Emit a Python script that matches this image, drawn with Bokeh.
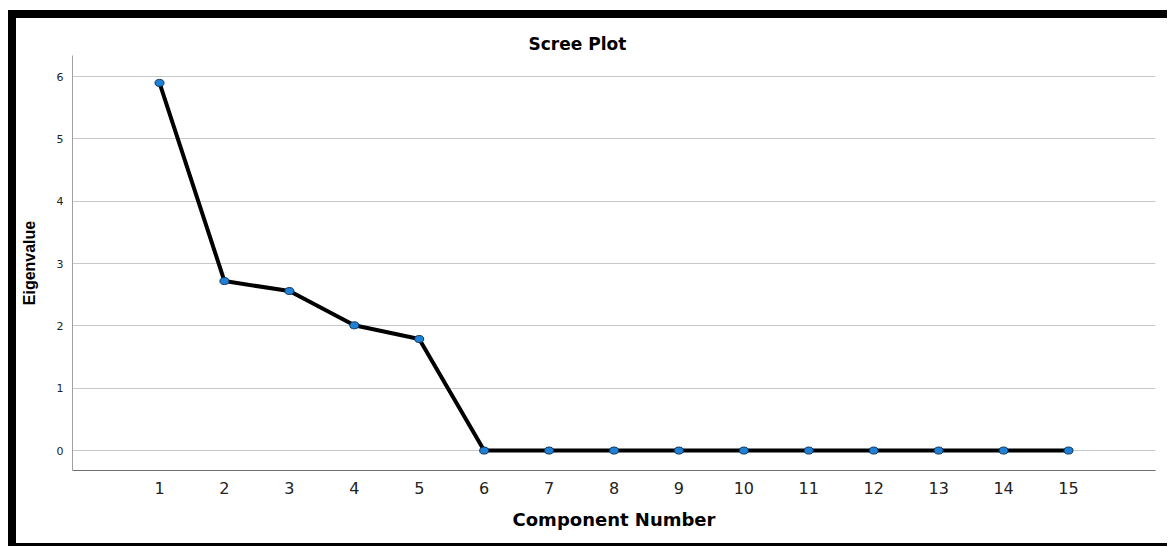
from bokeh.plotting import figure
from bokeh.models import ColumnDataSource, FixedTicker, Range1d
from bokeh.layouts import column
from bokeh.embed import file_html
from bokeh.resources import INLINE

# ---- data ----
components = [1, 2, 3, 4, 5, 6, 7, 8, 9, 10, 11, 12, 13, 14, 15]
eigenvalues = [5.90, 2.72, 2.56, 2.01, 1.79, 0.0, 0.0, 0.0, 0.0, 0.0, 0.0, 0.0, 0.0, 0.0, 0.0]
x_ticks = [1, 2, 3, 4, 5, 6, 7, 8, 9, 10, 11, 12, 13, 14, 15]
y_ticks = [0, 1, 2, 3, 4, 5, 6]
title_text = "Scree Plot"
x_label = "Component Number"
y_label = "Eigenvalue"

source = ColumnDataSource(data=dict(x=components, y=eigenvalues))

p = figure(width=1151, height=525, output_backend="svg", toolbar_location=None,
           tools="",
           x_range=Range1d(-0.34, 16.34), y_range=Range1d(-0.32, 6.34),
           min_border_left=56, min_border_right=12, min_border_top=37,
           min_border_bottom=73)

p.background_fill_color = "white"
p.border_fill_color = "white"
p.outline_line_color = None

# title
p.title.text = title_text
p.title.text_font = "DejaVu Sans"
p.title.text_font_style = "bold"
p.title.text_font_size = "17px"
p.title.text_color = "black"
p.title.align = "left"
p.title.offset = 456
p.title.standoff = 4

# grids
p.xgrid.visible = False
p.ygrid.grid_line_color = "#c8c8c8"
p.ygrid.grid_line_width = 1
p.ygrid.ticker = FixedTicker(ticks=y_ticks)

# axes
p.xaxis.ticker = FixedTicker(ticks=x_ticks)
p.yaxis.ticker = FixedTicker(ticks=y_ticks)
for ax in (p.xaxis[0], p.yaxis[0]):
    ax.major_tick_line_color = None
    ax.minor_tick_line_color = None
    ax.major_tick_in = 0
    ax.major_tick_out = 0
    ax.minor_tick_in = 0
    ax.minor_tick_out = 0
    ax.major_label_text_font = "DejaVu Sans"
    ax.major_label_text_color = "#222222"
    ax.axis_label_text_color = "black"

p.xaxis.axis_line_color = "#707070"
p.yaxis.axis_line_color = "#a0a0a0"

p.xaxis.major_label_text_font_size = "16px"
p.xaxis.major_label_standoff = 11
p.xaxis.axis_label = x_label
p.xaxis.axis_label_text_font = "DejaVu Sans"
p.xaxis.axis_label_text_font_style = "bold"
p.xaxis.axis_label_text_font_size = "18px"
p.xaxis.axis_label_standoff = 12

p.yaxis.major_label_text_font_size = "11px"
p.yaxis.major_label_standoff = 9
p.yaxis.axis_label = y_label
p.yaxis.axis_label_text_font = "Liberation Sans"
p.yaxis.axis_label_text_font_style = "bold"
p.yaxis.axis_label_text_font_size = "16px"
p.yaxis.axis_label_standoff = 16

# line + markers
p.line("x", "y", source=source, line_color="black", line_width=4)
p.ellipse("x", "y", source=source, width=9, height=7,
          width_units="screen", height_units="screen",
          fill_color="#1f80d6", line_color="#0b355c", line_width=1)

inner = column(p, margin=(8, 0, 3, 8), styles={"background-color": "white"})
layout = column(inner, margin=(10, 0, 0, 8), styles={"background-color": "black"})

open("out.html", "w").write(file_html(layout, INLINE))
